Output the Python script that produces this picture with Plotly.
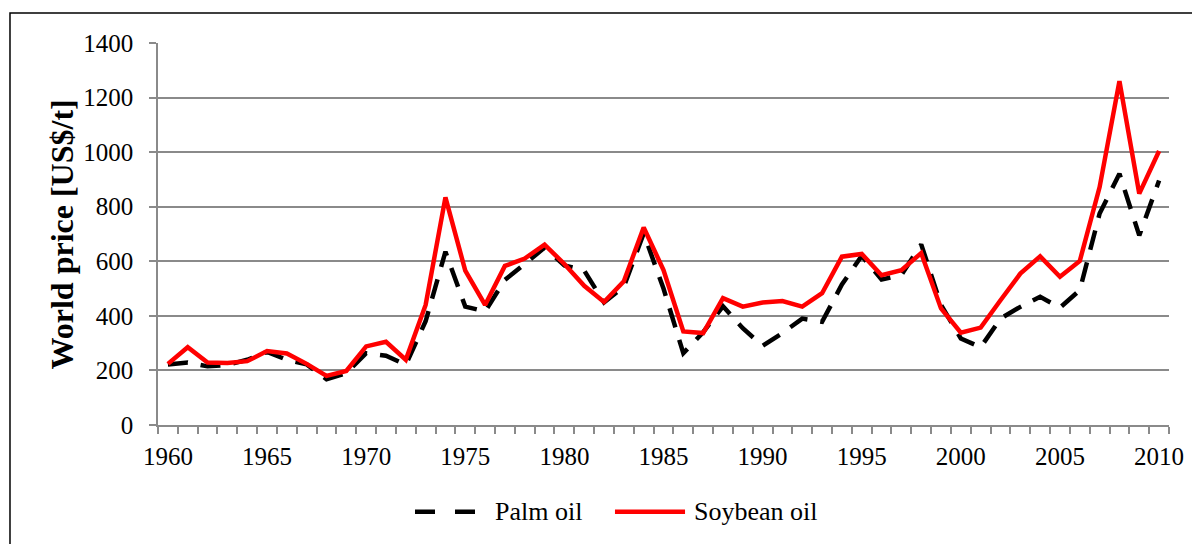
import plotly.graph_objects as go

years = list(range(1960, 2011))
palm_oil = [222, 229, 215, 220, 239, 268, 239, 222, 168, 190,
            263, 254, 221, 380, 635, 434, 416, 532, 590, 650,
            585, 566, 449, 507, 702, 500, 263, 340, 435, 355,
            290, 337, 390, 378, 515, 620, 533, 550, 662, 440,
            317, 285, 390, 433, 470, 430, 494, 775, 921, 695, 896]
soybean_oil = [224, 285, 229, 227, 234, 271, 262, 224, 180, 198,
               288, 305, 239, 440, 834, 566, 440, 583, 610, 661,
               590, 510, 451, 527, 724, 568, 343, 337, 465, 434,
               449, 454, 434, 483, 617, 627, 549, 567, 630, 427,
               338, 357, 457, 555, 618, 543, 601, 872, 1260, 848, 1004]
series_names = ["Palm oil", "Soybean oil"]
series_colors = ["black", "#ff0000"]
series_dash = ["20px,13px", "solid"]
x_labels = [1960, 1965, 1970, 1975, 1980, 1985, 1990, 1995, 2000, 2005, 2010]
y_ticks = [0, 200, 400, 600, 800, 1000, 1200, 1400]
y_title = "World price [US$/t]"

FONT = "Liberation Serif"
GRID = "#8a8a8a"
LW = 4.5

fig = go.Figure()
for name, vals, col, dsh in zip(series_names, [palm_oil, soybean_oil], series_colors, series_dash):
    fig.add_trace(go.Scatter(x=years, y=vals, name=name, mode="lines",
                             line=dict(color=col, width=LW, dash=dsh), showlegend=False))

fig.update_layout(
    width=1200, height=544,
    margin=dict(l=150, r=39, t=35, b=127),
    paper_bgcolor="white", plot_bgcolor="white",
    font=dict(family=FONT, size=25, color="black"),
    showlegend=False,
    xaxis=dict(range=[1959.5, 2010.5], tickmode="array", tickvals=x_labels,
               ticktext=[str(v) for v in x_labels], ticks="", showgrid=False,
               showline=True, linecolor=GRID, linewidth=1.5, zeroline=False,
               ticklabelstandoff=8,
               minor=dict(tickmode="linear", tick0=1959.5, dtick=1, ticks="outside",
                          ticklen=7, tickwidth=1.5, tickcolor=GRID, showgrid=False),
               tickfont=dict(family=FONT, size=25)),
    yaxis=dict(range=[0, 1400], tickmode="array", tickvals=y_ticks, ticks="outside",
               ticklen=7, tickwidth=1.5, tickcolor=GRID, showgrid=True, gridcolor=GRID,
               gridwidth=1.5, showline=True, linecolor=GRID, linewidth=1.5,
               zeroline=False, ticklabelstandoff=11, tickfont=dict(family=FONT, size=25)),
)

# y-axis title
fig.add_annotation(text="<b>" + y_title + "</b>", xref="paper", yref="paper",
                   x=-0.0945, y=0.5, textangle=-90, showarrow=False,
                   xanchor="center", yanchor="middle",
                   font=dict(family=FONT, size=32, color="black"))

# legend (long line samples as in the original)
LEG_Y = -0.227
leg_samples = [(0.2542, 0.3155), (0.4520, 0.5213)]
leg_text_x = [0.3314, 0.5282]
for (x0, x1), tx, name, col, dsh in zip(leg_samples, leg_text_x, series_names, series_colors,
                                        ["20px,20px", "solid"]):
    fig.add_shape(type="line", xref="paper", yref="paper", x0=x0, x1=x1, y0=LEG_Y, y1=LEG_Y,
                  line=dict(color=col, width=LW, dash=dsh))
    fig.add_annotation(text=name, xref="paper", yref="paper", x=tx, y=LEG_Y,
                       xanchor="left", yanchor="middle", showarrow=False,
                       font=dict(family=FONT, size=26, color="black"))

# outer frame (right and bottom edges lie outside the picture)
fig.add_shape(type="rect", xref="paper", yref="paper",
              x0=-0.1464, x1=1.3, y0=-0.6, y1=1.0785,
              line=dict(color="black", width=1.5), fillcolor="rgba(0,0,0,0)", layer="above")

fig.write_html("out.html")
